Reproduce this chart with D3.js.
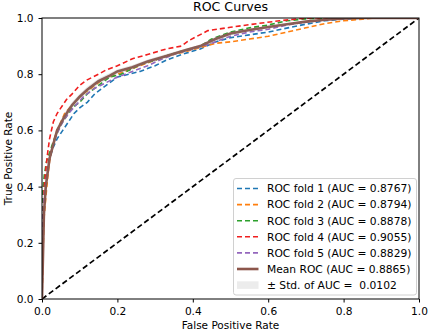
<!DOCTYPE html>
<html>
<head>
<meta charset="utf-8">
<script src="https://cdn.jsdelivr.net/npm/d3@7/dist/d3.min.js"></script>
<style>
    body { margin: 0; background: #fff; }
    svg { display: block; font-family: 'DejaVu Sans', sans-serif; }
</style>
</head>
<body>
<div id="chart"></div>
<script>
// ROC points per fold, [fpr, tpr]
const fold1 = [[0,0],[0.003,0.25],[0.006,0.35],[0.01,0.42],[0.015,0.47],[0.02,0.5],[0.03,0.54],[0.04,0.57],[0.055,0.6],[0.07,0.63],[0.085,0.66],[0.1,0.68],[0.12,0.7],[0.14,0.73],[0.16,0.75],[0.18,0.77],[0.2,0.79],[0.23,0.8],[0.26,0.81],[0.3,0.83],[0.33,0.85],[0.37,0.87],[0.42,0.89],[0.46,0.915],[0.5,0.93],[0.55,0.94],[0.6,0.95],[0.66,0.967],[0.7,0.978],[0.75,0.99],[0.8,0.996],[0.85,1],[1,1]];
const fold2 = [[0,0],[0.005,0.28],[0.01,0.36],[0.015,0.43],[0.02,0.49],[0.03,0.56],[0.04,0.6],[0.05,0.63],[0.06,0.66],[0.08,0.69],[0.1,0.72],[0.13,0.75],[0.16,0.78],[0.2,0.8],[0.24,0.82],[0.28,0.84],[0.33,0.865],[0.38,0.88],[0.42,0.895],[0.46,0.91],[0.5,0.915],[0.55,0.925],[0.6,0.935],[0.65,0.95],[0.7,0.965],[0.75,0.98],[0.8,0.99],[0.85,0.996],[0.88,1],[1,1]];
const fold3 = [[0,0],[0.001,0.3],[0.002,0.38],[0.006,0.44],[0.012,0.49],[0.02,0.52],[0.03,0.56],[0.04,0.59],[0.05,0.62],[0.065,0.65],[0.08,0.68],[0.1,0.7],[0.12,0.73],[0.15,0.76],[0.18,0.79],[0.21,0.8],[0.24,0.82],[0.26,0.835],[0.3,0.85],[0.34,0.87],[0.38,0.885],[0.42,0.9],[0.45,0.925],[0.5,0.95],[0.55,0.965],[0.6,0.975],[0.65,0.99],[0.7,0.997],[0.75,1],[1,1]];
const fold4 = [[0,0],[0.003,0.3],[0.006,0.4],[0.01,0.46],[0.015,0.52],[0.02,0.57],[0.03,0.63],[0.04,0.66],[0.05,0.68],[0.065,0.71],[0.08,0.73],[0.1,0.76],[0.12,0.78],[0.15,0.8],[0.17,0.815],[0.2,0.83],[0.24,0.855],[0.28,0.87],[0.33,0.89],[0.37,0.9],[0.39,0.92],[0.44,0.955],[0.5,0.967],[0.57,0.98],[0.63,0.99],[0.68,0.997],[0.72,1],[1,1]];
const fold5 = [[0,0],[0.002,0.28],[0.005,0.36],[0.01,0.41],[0.015,0.46],[0.02,0.5],[0.03,0.55],[0.04,0.59],[0.055,0.63],[0.07,0.66],[0.09,0.69],[0.11,0.72],[0.14,0.75],[0.17,0.77],[0.2,0.79],[0.24,0.81],[0.28,0.83],[0.32,0.855],[0.36,0.875],[0.4,0.89],[0.45,0.91],[0.5,0.935],[0.55,0.95],[0.6,0.96],[0.65,0.975],[0.7,0.985],[0.75,0.993],[0.8,0.998],[0.84,1],[1,1]];

// mean curve and its std (tpr)
const meanRoc = [[0,0],[0.005,0.3],[0.01,0.4],[0.02,0.5],[0.03,0.55],[0.04,0.6],[0.06,0.65],[0.08,0.69],[0.1,0.72],[0.12,0.745],[0.15,0.775],[0.18,0.795],[0.2,0.81],[0.24,0.825],[0.28,0.845],[0.33,0.865],[0.38,0.885],[0.42,0.9],[0.46,0.925],[0.5,0.945],[0.55,0.957],[0.6,0.968],[0.65,0.978],[0.7,0.987],[0.75,0.994],[0.8,0.998],[0.85,1],[1,1]];
const meanStd = [0,0.02,0.015,0.012,0.012,0.012,0.012,0.011,0.01,0.01,0.01,0.009,0.008,0.008,0.007,0.007,0.006,0.006,0.007,0.006,0.005,0.005,0.004,0.003,0.002,0.001,0,0];

const foldNames = ['ROC fold 1 (AUC = 0.8767)', 'ROC fold 2 (AUC = 0.8794)', 'ROC fold 3 (AUC = 0.8878)', 'ROC fold 4 (AUC = 0.9055)', 'ROC fold 5 (AUC = 0.8829)'];
const meanName = 'Mean ROC (AUC = 0.8865)';
const stdName = '± Std. of AUC =  0.0102';
const tickValues = [0, 0.2, 0.4, 0.6, 0.8, 1.0];

const foldColors = ['#1f77b4', '#ff7f0e', '#2ca02c', '#f01f1f', '#9467bd'];
const meanColor = '#8c564b';

const width = 429, height = 332;
const margin = { top: 18, right: 10, bottom: 33, left: 42 };
const plotW = width - margin.left - margin.right;
const plotH = height - margin.top - margin.bottom;

const svg = d3.select('#chart')
    .append('svg')
    .attr('width', width)
    .attr('height', height);

const x = d3.scaleLinear().domain([0, 1]).range([0, plotW]);
const y = d3.scaleLinear().domain([0, 1]).range([plotH, 0]);

const g = svg.append('g')
    .attr('transform', `translate(${margin.left}, ${margin.top})`);

g.append('clipPath').attr('id', 'clip')
    .append('rect').attr('width', plotW).attr('height', plotH);

const plot = g.append('g').attr('clip-path', 'url(#clip)');

const line = d3.line().x(d => x(d[0])).y(d => y(d[1]));

// fold curves
[fold1, fold2, fold3, fold4, fold5].forEach((fold, i) => {
    plot.append('path')
        .datum(fold)
        .attr('d', line)
        .attr('fill', 'none')
        .attr('stroke', foldColors[i])
        .attr('stroke-width', 1.6)
        .attr('stroke-dasharray', '5,3');
});

// chance line
plot.append('path')
    .datum([[0, 0], [1, 1]])
    .attr('d', line)
    .attr('fill', 'none')
    .attr('stroke', '#000')
    .attr('stroke-width', 1.7)
    .attr('stroke-dasharray', '5.5,3');

// mean curve
plot.append('path')
    .datum(meanRoc)
    .attr('d', line)
    .attr('fill', 'none')
    .attr('stroke', meanColor)
    .attr('stroke-width', 2.6);

// std band
const band = d3.area()
    .x(d => x(d[0]))
    .y0((d, i) => y(Math.max(d[1] - meanStd[i], 0)))
    .y1((d, i) => y(Math.min(d[1] + meanStd[i], 1)));

plot.append('path')
    .datum(meanRoc)
    .attr('d', band)
    .attr('fill', 'grey')
    .attr('opacity', 0.2);

// axes
const xAxis = g.append('g')
    .attr('transform', `translate(0, ${plotH})`)
    .call(d3.axisBottom(x).tickValues(tickValues).tickFormat(d3.format('.1f')).tickSize(3.5).tickPadding(5));
const yAxis = g.append('g')
    .call(d3.axisLeft(y).tickValues(tickValues).tickFormat(d3.format('.1f')).tickSize(3.5).tickPadding(5));

[xAxis, yAxis].forEach(a => {
    a.select('.domain').remove();
    a.selectAll('line').attr('stroke', '#000').attr('stroke-width', 1);
    a.selectAll('text')
        .attr('fill', '#000')
        .style('font-size', '10.6px')
        .style('font-family', 'DejaVu Sans');
});

// frame
g.append('rect')
    .attr('width', plotW)
    .attr('height', plotH)
    .attr('fill', 'none')
    .attr('stroke', '#000')
    .attr('stroke-width', 1);

// title and axis labels
g.append('text')
    .attr('x', plotW / 2)
    .attr('y', -7.5)
    .attr('text-anchor', 'middle')
    .style('font-size', '12.6px')
    .text('ROC Curves');

g.append('text')
    .attr('x', plotW / 2)
    .attr('y', plotH + 30)
    .attr('text-anchor', 'middle')
    .style('font-size', '10.5px')
    .text('False Positive Rate');

g.append('text')
    .attr('transform', 'rotate(-90)')
    .attr('x', -plotH / 2)
    .attr('y', -30)
    .attr('text-anchor', 'middle')
    .style('font-size', '10.5px')
    .text('True Positive Rate');

// legend
const legend = svg.append('g').attr('transform', 'translate(233.5, 178.5)');

legend.append('rect')
    .attr('width', 183)
    .attr('height', 116.5)
    .attr('rx', 2.5)
    .attr('fill', '#fff')
    .attr('fill-opacity', 0.8)
    .attr('stroke', '#d0d0d0')
    .attr('stroke-width', 1);

const rowY = i => 10 + i * 16.1;

foldNames.forEach((name, i) => {
    legend.append('line')
        .attr('x1', 3.5).attr('x2', 25)
        .attr('y1', rowY(i)).attr('y2', rowY(i))
        .attr('stroke', foldColors[i])
        .attr('stroke-width', 1.6)
        .attr('stroke-dasharray', '5,3');
});

legend.append('line')
    .attr('x1', 3.5).attr('x2', 25)
    .attr('y1', rowY(5)).attr('y2', rowY(5))
    .attr('stroke', meanColor)
    .attr('stroke-width', 2.6);

legend.append('rect')
    .attr('x', 3.5).attr('y', rowY(6) - 3.8)
    .attr('width', 21.5).attr('height', 7.6)
    .attr('fill', 'grey')
    .attr('opacity', 0.15);

foldNames.concat([meanName, stdName]).forEach((name, i) => {
    legend.append('text')
        .attr('x', 33.5)
        .attr('y', rowY(i))
        .attr('dy', '0.36em')
        .style('font-size', '10.7px')
        .style('white-space', 'pre')
        .text(name);
});
</script>
</body>
</html>
